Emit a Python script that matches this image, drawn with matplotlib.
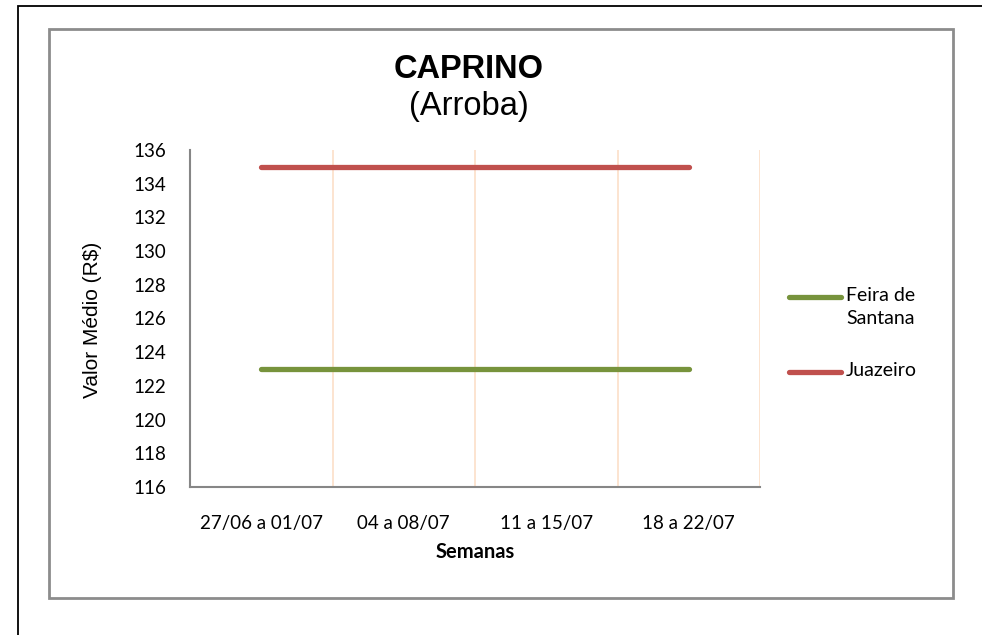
import matplotlib
matplotlib.use("Agg")
import matplotlib.pyplot as plt
from matplotlib.patches import Rectangle
from matplotlib.lines import Line2D

# ---- data ----
semanas = ["27/06 a 01/07", "04 a 08/07", "11 a 15/07", "18 a 22/07"]
feira_de_santana = [123, 123, 123, 123]
juazeiro = [135, 135, 135, 135]
series_labels = ["Feira de\nSantana", "Juazeiro"]
series_colors = ["#77933C", "#C0504D"]
y_ticks = [116, 118, 120, 122, 124, 126, 128, 130, 132, 134, 136]

W, H = 982, 635
fig = plt.figure(figsize=(W / 100, H / 100), dpi=100)
fig.patch.set_facecolor("white")

def fx(px):
    return px / W

def fy(py):
    return 1 - py / H

# outer black frame
fig.patches.append(Rectangle((fx(18), fy(700)), fx(981) - fx(18) + 0.01, fy(6) - fy(700),
                             transform=fig.transFigure, fill=False, edgecolor="black",
                             linewidth=1.3, zorder=0))
# inner gray frame
fig.patches.append(Rectangle((fx(49), fy(598)), fx(953) - fx(49), fy(29) - fy(598),
                             transform=fig.transFigure, fill=False, edgecolor="#8C8C8C",
                             linewidth=2.0, zorder=0))

calibri = ["Lato", "DejaVu Sans"]
arial = ["Liberation Sans", "DejaVu Sans"]

ax = fig.add_axes([fx(190), fy(487), fx(760) - fx(190), fy(150) - fy(487)])
ax.set_facecolor("white")
x = list(range(len(semanas)))
series = [feira_de_santana, juazeiro]
lines = []
for vals, c in zip(series, series_colors):
    ln, = ax.plot(x, vals, color=c, linewidth=3.8, solid_capstyle="round", zorder=3)
    lines.append(ln)

ax.set_xlim(-0.5, len(semanas) - 0.5)
ax.set_ylim(y_ticks[0], y_ticks[-1])
ax.set_yticks(y_ticks)
ax.set_yticklabels([str(v) for v in y_ticks], fontfamily=calibri, fontsize=13.5)
ax.set_xticks(x)
ax.set_xticklabels(semanas, fontfamily=calibri, fontsize=13.5)
ax.tick_params(axis="both", length=0)
ax.tick_params(axis="y", pad=17)
ax.tick_params(axis="x", pad=20)

# vertical gridlines at category boundaries
ax.set_xticks([i + 0.5 for i in x], minor=True)
ax.tick_params(axis="x", which="minor", length=0)
ax.grid(True, axis="x", which="minor", color="#FCE4D0", linewidth=1.4, zorder=1)
ax.grid(False, axis="x", which="major")

for s in ["top", "right"]:
    ax.spines[s].set_visible(False)
for s in ["left", "bottom"]:
    ax.spines[s].set_color("#868686")
    ax.spines[s].set_linewidth(1.5)

ax.set_xlabel("Semanas", fontfamily=calibri, fontsize=14.5, fontweight="bold", labelpad=7)
fig.text(fx(92), fy(320), "Valor Médio (R$)", rotation=90, ha="center", va="center",
         fontfamily=arial, fontsize=15)

# title
fig.text(fx(469), fy(69), "CAPRINO", ha="center", va="center", fontfamily=arial,
         fontsize=23.5, fontweight="bold")
fig.text(fx(469), fy(106), "(Arroba)", ha="center", va="center", fontfamily=arial,
         fontsize=23.5)

# legend (manual, to match layout)
leg_y = [297, 372]
for ln, lab, yy in zip(lines, series_labels, leg_y):
    fig.lines.append(Line2D([fx(789), fx(841)], [fy(yy), fy(yy)], transform=fig.transFigure,
                            color=ln.get_color(), linewidth=3.8, solid_capstyle="round"))
    fig.text(fx(846), fy(yy - 10), lab, ha="left", va="top", fontfamily=calibri, fontsize=14,
             linespacing=1.45, transform=fig.transFigure)

fig.savefig("out.png", dpi=100, facecolor="white")
